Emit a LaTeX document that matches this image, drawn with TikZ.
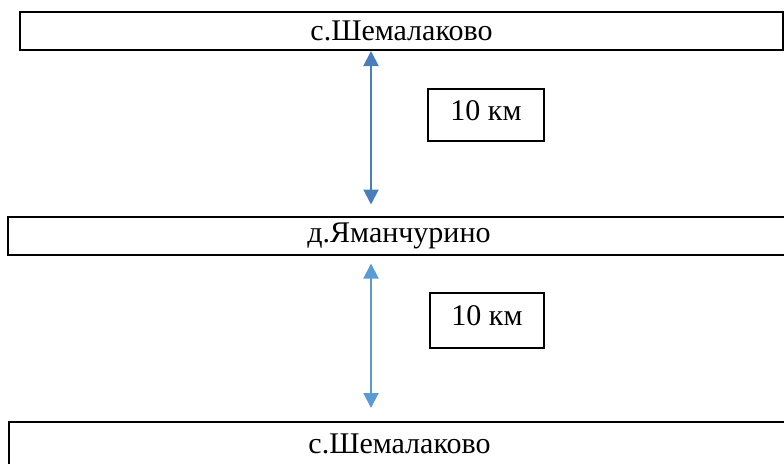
\documentclass[tikz,border=0pt]{standalone}
\usepackage{fontspec}
\setmainfont{Liberation Serif}
\usetikzlibrary{arrows.meta}
\tikzset{
  townbox/.style={draw, line width=2pt, minimum height=38pt, inner sep=0pt, font=\fontsize{30}{34}\selectfont},
  distbox/.style={draw, line width=1.5pt, inner sep=0pt, text height=21pt, text depth=11pt, font=\fontsize{30}{34}\selectfont},
  distarrow/.style={line width=2pt, {Triangle[width=15pt,length=15pt]}-{Triangle[width=15pt,length=15pt]}}
}
\definecolor{arrowdark}{HTML}{4A7EBB}
\definecolor{arrowlight}{HTML}{5B9BD5}
\begin{document}
\begin{tikzpicture}[x=1pt, y=-1pt]
\useasboundingbox (0,0) rectangle (784,463);
% Set the towns
\node[townbox, minimum width=763pt] (town1) at (401.5, 31) {с.Шемалаково};
\node[townbox, minimum width=782pt] (town2) at (399, 235.5) {д.Яманчурино};
\node[townbox, minimum width=782pt, minimum height=43pt] (town3) at (399.5, 443.5) {с.Шемалаково};
% Distances
\coordinate (axis) at (371, 0);
\draw[distarrow, arrowdark, shorten >=11pt] (town1.south -| axis) -- (town2.north -| axis);
\draw[distarrow, arrowlight, shorten <=8pt, shorten >=13pt] (town2.south -| axis) -- (town3.north -| axis);
\node[distbox, minimum width=116pt, minimum height=52pt] (dist1) at (486, 115) {10 км};
\node[distbox, minimum width=114pt, minimum height=55pt] (dist2) at (487, 320.5) {10 км};
\end{tikzpicture}
\end{document}
